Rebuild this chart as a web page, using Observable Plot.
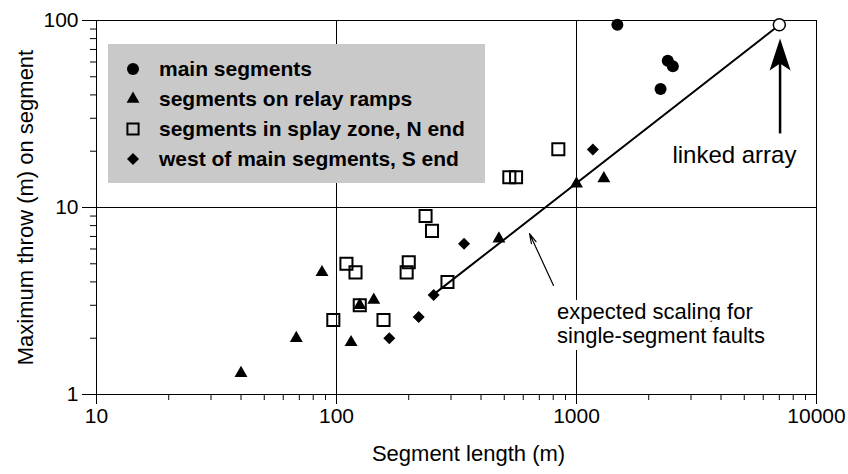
<!DOCTYPE html>
<html><head><meta charset="utf-8">
<script src="https://cdn.jsdelivr.net/npm/d3@7"></script>
<script src="https://cdn.jsdelivr.net/npm/@observablehq/plot@0.6"></script>
<style>
body{margin:0;background:#fff;}
#wrap{position:relative;width:848px;height:474px;font-family:"Liberation Sans",Arial,Helvetica,sans-serif;}
#legend{position:absolute;left:108px;top:44px;width:377px;height:139px;background:#c9c9c9;}
.row{position:absolute;left:0;height:30px;display:flex;align-items:center;font-weight:bold;font-size:21px;color:#000;white-space:nowrap;}
.row svg{margin-left:16px;margin-right:17px;}
</style>
</head><body>
<div id="wrap"><div id="legend"></div></div>
<script>
// Data (segment length in m, maximum throw in m)
const mainL = [1480, 2400, 2520, 2240];
const mainT = [95, 61, 57, 43];
const rampL = [40, 68, 87, 115, 125, 143, 475, 1000, 1300];
const rampT = [1.3, 2.0, 4.5, 1.9, 3.0, 3.2, 6.8, 13.4, 14.3];
const splayL = [97, 110, 120, 125, 157, 196, 200, 235, 250, 290, 525, 560, 840];
const splayT = [2.5, 5.0, 4.5, 3.0, 2.5, 4.5, 5.1, 9.0, 7.5, 4.0, 14.5, 14.5, 20.5];
const westL = [166, 220, 254, 340, 1170];
const westT = [2.0, 2.6, 3.4, 6.4, 20.4];
const linkedL = [7000];
const linkedT = [95];
const scalingL = [254, 7000];
const scalingT = [3.43, 94.6];

// Tick values
const xMajor = [10, 100, 1000, 10000];
const xMinor = [20,30,40,50,60,70,80,90,200,300,400,500,600,700,800,900,2000,3000,4000,5000,6000,7000,8000,9000];
const yMajor = [1, 10, 100];
const yMinor = [2,3,4,5,6,7,8,9,20,30,40,50,60,70,80,90];
const gridX = [100, 1000];
const gridY = [10];

// Legend
const legendLabels = ["main segments", "segments on relay ramps", "segments in splay zone, N end", "west of main segments, S end"];
const legendSymbols = ["circle", "triangle", "square", "diamond2"];

// Annotations
const annText = ["expected scaling for\nsingle-segment faults"];
const annL = [830], annT = [2.4];
const linkedLabel = ["linked array"];
const linkedLabelL = [4550], linkedLabelT = [19];
const bigArrowL = [7050], bigArrowT1 = [24.9], bigArrowT2 = [62], bigArrowTip = [80];
const smallArrowL1 = [802], smallArrowT1 = [3.83], smallArrowL2 = [637], smallArrowT2 = [7.26];

const pts = (L, T) => L.map((l, i) => ({l, t: T[i]}));

const arrowHead = {
  draw(ctx) {
    ctx.moveTo(0, 0);
    ctx.lineTo(10.5, 32);
    ctx.lineTo(0, 25);
    ctx.lineTo(-10.5, 32);
    ctx.closePath();
  }
};

const chart = Plot.plot({
  width: 848,
  height: 474,
  marginLeft: 96,
  marginRight: 32,
  marginTop: 20,
  marginBottom: 80,
  x: {type: "log", domain: [10, 10000]},
  y: {type: "log", domain: [1, 100]},
  style: {fontFamily: "Liberation Sans, Arial, Helvetica, sans-serif", fontSize: "21px", color: "black", background: "white"},
  marks: [
    Plot.ruleX(gridX, {stroke: "black", strokeWidth: 1}),
    Plot.ruleY(gridY, {stroke: "black", strokeWidth: 1}),
    Plot.frame({stroke: "black", strokeWidth: 1}),
    Plot.axisX({ticks: xMinor, tickSize: 6, tickFormat: () => "", label: null}),
    Plot.axisX({ticks: xMajor, tickSize: 10, tickPadding: 4, tickFormat: d => String(d), label: null, fontSize: 21}),
    Plot.axisY({ticks: yMinor, tickSize: 6, tickFormat: () => "", label: null}),
    Plot.axisY({ticks: yMajor, tickSize: 14, tickPadding: 4, tickFormat: d => String(d), label: null, fontSize: 21}),
    Plot.text(annText, {x: annL, y: annT, text: d => d, textAnchor: "start", lineAnchor: "middle", lineHeight: 1.08, fontSize: 22, fill: "black", stroke: "white", strokeWidth: 14}),
    Plot.line(pts(scalingL, scalingT), {x: "l", y: "t", stroke: "black", strokeWidth: 2}),
    Plot.arrow([0], {x1: () => smallArrowL1[0], y1: () => smallArrowT1[0], x2: () => smallArrowL2[0], y2: () => smallArrowT2[0], stroke: "black", strokeWidth: 1.2, headLength: 13, headAngle: 28}),
    Plot.link([0], {x1: () => bigArrowL[0], x2: () => bigArrowL[0], y1: () => bigArrowT1[0], y2: () => bigArrowT2[0], stroke: "black", strokeWidth: 2.5}),
    Plot.dot([0], {x: () => bigArrowL[0], y: () => bigArrowTip[0], symbol: arrowHead, fill: "black", r: 5}),
    Plot.text(linkedLabel, {x: linkedLabelL, y: linkedLabelT, text: d => d, fontSize: 24, textAnchor: "middle", fill: "black"}),
    Plot.dot(pts(splayL, splayT), {x: "l", y: "t", symbol: "square", r: 6.8, fill: "none", stroke: "black", strokeWidth: 2}),
    Plot.dot(pts(rampL, rampT), {x: "l", y: "t", symbol: "triangle", r: 4.8, fill: "black", stroke: "none"}),
    Plot.dot(pts(westL, westT), {x: "l", y: "t", symbol: "diamond2", r: 5.4, fill: "black", stroke: "none"}),
    Plot.dot(pts(mainL, mainT), {x: "l", y: "t", symbol: "circle", r: 6, fill: "black", stroke: "none"}),
    Plot.dot(pts(linkedL, linkedT), {x: "l", y: "t", symbol: "circle", r: 6, fill: "white", stroke: "black", strokeWidth: 1.5}),
    Plot.text(["Segment length (m)"], {frameAnchor: "bottom", dy: 59, dx: 12, text: d => d, fontSize: 22, textAnchor: "middle", lineAnchor: "middle", fill: "black"}),
    Plot.text(["Maximum throw (m) on segment"], {frameAnchor: "left", dx: -71, rotate: -90, text: d => d, fontSize: 22, textAnchor: "middle", lineAnchor: "middle", fill: "black"})
  ]
});
document.getElementById("wrap").prepend(chart);

// Legend (HTML overlay)
const legend = document.getElementById("legend");
const symbolTypes = {circle: d3.symbolCircle, triangle: d3.symbolTriangle, square: d3.symbolSquare, diamond2: d3.symbolDiamond2};
const symbolSizes = {circle: Math.PI * 36, triangle: Math.PI * 4.8 * 4.8, square: Math.PI * 6.3 * 6.3, diamond2: Math.PI * 5.4 * 5.4};
legendLabels.forEach((label, i) => {
  const row = document.createElement("div");
  row.className = "row";
  row.style.top = (10 + i * 30) + "px";
  const s = legendSymbols[i];
  const path = d3.symbol(symbolTypes[s], symbolSizes[s])();
  const isOpen = s === "square";
  row.innerHTML = `<svg width="18" height="18" viewBox="-9 -9 18 18"><path d="${path}" fill="${isOpen ? "none" : "black"}" stroke="${isOpen ? "black" : "none"}" stroke-width="2"/></svg>`;
  const span = document.createElement("span");
  span.textContent = label;
  row.appendChild(span);
  legend.appendChild(row);
});
</script>
</body></html>
